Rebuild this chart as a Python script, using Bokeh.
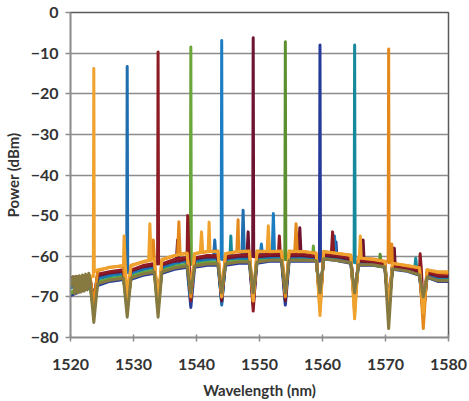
from bokeh.plotting import figure
from bokeh.models import Range1d, FixedTicker, ColumnDataSource
from bokeh.embed import file_html
from bokeh.resources import INLINE

# ---------------- data ----------------
x_ticks = [1520, 1530, 1540, 1550, 1560, 1570, 1580]
y_ticks = [-80, -70, -60, -50, -40, -30, -20, -10, 0]

# wavelengths (nm) where the noise floor was read
floor_wl = [1520.0, 1521.5, 1523.1, 1524.3, 1526.2, 1528.4, 1529.6, 1531.5, 1533.3, 1534.5,
            1536.5, 1538.5, 1539.7, 1541.7, 1543.4, 1544.6, 1546.7, 1548.4, 1549.6, 1551.8,
            1553.5, 1554.7, 1557.0, 1559.0, 1560.2, 1562.6, 1564.5, 1565.7, 1568.0, 1569.9,
            1571.1, 1573.5, 1575.4, 1576.6, 1578.3, 1580.0]
# channel grid (nm): peak of own trace, notch of the others
channel_wl = [1523.7, 1529.0, 1533.9, 1539.1, 1544.0, 1549.0, 1554.1, 1559.6, 1565.1, 1570.5, 1576.0]

# trace 1 (orange, 1523.7 nm)
t1_floor = [-66.0, -65.5, -65.0, -63.3, -62.8, -62.2, -62.4, -61.3, -60.8, -60.8, -59.8, -59.3,
            -59.4, -58.8, -58.9, -59.3, -58.8, -58.7, -58.9, -58.8, -58.7, -58.9, -58.8, -59.3,
            -58.9, -59.3, -59.8, -60.3, -60.8, -61.3, -61.8, -62.3, -62.8, -63.3, -63.8, -63.8]
t1_chan = [-13.8, -70.0, -71.0, -69.0, -70.0, -71.0, -69.0, -74.6, -75.4, -72.0, -74.0]
t1_extra = [(1523.62, -65.0), (1523.78, -63.8), (1528.3, -62.3), (1528.5, -55.0), (1528.7, -62.3),
            (1532.4, -61.1), (1532.6, -52.0), (1532.8, -61.0), (1540.6, -59.1), (1540.8, -54.0),
            (1541.0, -59.0), (1541.85, -58.8), (1542.0, -51.6), (1542.15, -58.8), (1551.2, -58.8),
            (1551.4, -52.5), (1551.6, -58.8), (1565.85, -60.4), (1566.0, -55.0), (1566.15, -60.5)]

# trace 2 (blue, 1529.0 nm)
t2_floor = [-67.3, -66.9, -66.0, -65.3, -64.3, -64.1, -63.8, -63.1, -62.4, -62.6, -61.4, -61.1,
            -60.9, -60.6, -60.4, -60.9, -60.2, -60.4, -60.2, -60.1, -59.9, -60.1, -59.9, -60.4,
            -59.8, -60.2, -60.9, -61.2, -61.6, -61.9, -62.6, -62.9, -63.9, -64.2, -65.1, -64.9]
t2_chan = [-72.0, -13.3, -71.0, -70.0, -72.0, -70.0, -70.0, -71.0, -72.0, -71.0, -72.0]
t2_extra = [(1528.92, -64.0), (1529.08, -64.0), (1547.2, -60.3), (1547.4, -48.7), (1547.6, -60.3),
            (1542.7, -60.5), (1542.9, -56.0), (1543.1, -60.5)]

# trace 3 (dark red, 1533.9 nm)
t3_floor = [-65.3, -65.0, -65.6, -64.4, -63.8, -63.3, -63.4, -62.3, -61.8, -61.9, -60.8, -60.3,
            -60.4, -59.8, -59.9, -60.2, -59.7, -59.6, -59.7, -59.5, -59.4, -59.5, -59.5, -59.9,
            -59.4, -59.9, -60.4, -60.9, -61.3, -61.8, -62.3, -62.8, -63.4, -63.9, -64.6, -64.5]
t3_chan = [-71.0, -72.0, -9.7, -71.0, -70.0, -73.5, -70.0, -72.0, -71.0, -73.0, -73.0]
t3_extra = [(1533.82, -61.9), (1533.98, -61.8), (1538.4, -60.3), (1538.6, -50.0), (1538.8, -60.3),
            (1553.0, -59.4), (1553.15, -55.0), (1553.3, -59.4), (1561.4, -59.6), (1561.6, -54.0),
            (1561.8, -59.6), (1575.3, -63.3), (1575.5, -59.4), (1575.7, -63.5)]

# trace 4 (green, 1539.1 nm)
t4_floor = [-68.9, -67.7, -67.2, -66.3, -65.6, -64.9, -65.1, -63.9, -63.6, -63.4, -62.6, -61.9,
            -62.1, -61.4, -61.6, -61.5, -61.2, -61.0, -61.2, -60.7, -60.9, -60.8, -60.7, -61.0,
            -60.3, -61.0, -61.3, -62.0, -61.9, -62.6, -62.9, -63.6, -64.3, -65.0, -65.7, -65.9]
t4_chan = [-73.0, -73.0, -73.0, -8.5, -69.0, -70.0, -69.0, -70.0, -70.0, -72.0, -72.0]
t4_extra = [(1539.02, -62.0), (1539.18, -62.0), (1558.4, -60.9), (1558.55, -57.5), (1558.7, -60.9)]

# trace 5 (blue, 1544.0 nm)
t5_floor = [-67.6, -66.5, -66.3, -65.0, -64.6, -63.9, -64.1, -62.9, -62.6, -62.4, -61.6, -60.9,
            -61.1, -60.4, -60.6, -60.7, -60.4, -60.2, -60.4, -59.9, -60.1, -59.9, -60.1, -60.2,
            -59.9, -60.4, -60.7, -61.4, -61.4, -62.1, -62.4, -63.1, -63.7, -64.4, -64.9, -65.1]
t5_chan = [-70.0, -71.0, -70.0, -71.0, -6.9, -71.0, -70.0, -71.0, -71.0, -72.0, -73.0]
t5_extra = [(1543.92, -60.6), (1544.08, -60.8), (1552.0, -60.0), (1552.2, -49.5), (1552.4, -60.0),
            (1550.1, -60.1), (1550.3, -57.0), (1550.5, -60.1), (1561.7, -59.8), (1561.9, -55.0),
            (1562.1, -59.8)]

# trace 6 (dark red, 1549.0 nm)
t6_floor = [-65.8, -65.5, -65.4, -64.8, -64.1, -63.7, -63.6, -62.6, -62.2, -62.1, -61.2, -60.6,
            -60.7, -60.1, -60.2, -60.5, -60.0, -60.0, -60.1, -59.8, -59.8, -59.8, -59.9, -60.2,
            -59.8, -60.2, -60.8, -61.2, -61.5, -62.1, -62.6, -63.1, -63.8, -64.2, -64.9, -65.0]
t6_chan = [-71.0, -70.0, -72.0, -70.0, -71.0, -6.2, -71.0, -72.0, -72.0, -74.0, -75.0]
t6_extra = [(1548.92, -60.0), (1549.08, -60.1), (1548.0, -60.0), (1548.2, -54.0), (1548.35, -60.0),
            (1556.2, -59.9), (1556.4, -53.0), (1556.6, -59.9), (1566.3, -61.3), (1566.45, -56.0),
            (1566.6, -61.3), (1571.25, -62.7), (1571.4, -58.0), (1571.55, -62.7), (1536.8, -61.2),
            (1537.0, -56.0), (1537.2, -61.2)]

# trace 7 (green, 1554.1 nm)
t7_floor = [-69.2, -68.1, -67.0, -66.6, -65.4, -65.2, -64.9, -64.2, -63.4, -63.6, -62.4, -62.2,
            -61.9, -61.6, -61.4, -61.7, -61.0, -61.2, -61.0, -60.9, -60.7, -60.9, -60.9, -60.8,
            -60.5, -60.8, -61.5, -61.8, -62.1, -62.4, -63.1, -63.4, -64.5, -64.8, -65.9, -65.7]
t7_chan = [-74.0, -73.0, -73.0, -70.0, -70.0, -70.0, -7.2, -70.0, -71.0, -73.0, -73.0]
t7_extra = [(1554.02, -60.8), (1554.18, -60.8), (1569.0, -62.5), (1569.15, -59.5), (1569.3, -62.5)]

# trace 8 (navy, 1559.6 nm)
t8_floor = [-69.7, -68.7, -67.7, -67.2, -66.2, -65.7, -65.7, -64.7, -64.2, -64.2, -63.2, -62.7,
            -62.7, -62.2, -62.2, -62.2, -61.7, -61.7, -61.7, -61.2, -61.2, -61.2, -61.2, -61.2,
            -60.7, -61.2, -61.7, -62.2, -62.2, -62.7, -63.2, -63.7, -64.7, -65.2, -66.2, -66.2]
t8_chan = [-70.0, -70.0, -71.0, -72.6, -71.0, -72.0, -72.0, -8.0, -72.0, -73.0, -74.0]
t8_extra = [(1559.52, -61.2), (1559.68, -61.1), (1562.0, -61.0), (1562.15, -56.5), (1562.3, -61.0)]

# trace 9 (teal, 1565.1 nm)
t9_floor = [-67.8, -67.1, -66.4, -65.6, -64.8, -64.3, -64.2, -63.3, -62.7, -62.8, -61.8, -61.2,
            -61.3, -60.8, -60.7, -61.0, -60.5, -60.6, -60.4, -60.3, -60.1, -60.3, -60.2, -60.5,
            -60.0, -60.5, -61.0, -61.5, -61.7, -62.2, -62.7, -63.2, -64.0, -64.6, -65.3, -65.3]
t9_chan = [-71.0, -71.0, -71.0, -71.0, -71.5, -71.0, -71.0, -71.0, -8.0, -73.0, -74.0]
t9_extra = [(1565.02, -61.5), (1565.18, -61.6), (1574.6, -63.5), (1574.8, -60.5), (1575.0, -63.6),
            (1545.3, -60.5), (1545.45, -55.0), (1545.6, -60.5)]

# trace 10 (orange, 1570.5 nm)
t10_floor = [-66.5, -65.0, -64.8, -63.6, -62.7, -62.4, -62.2, -61.4, -60.7, -60.9, -59.9, -59.2,
             -59.3, -58.9, -58.7, -59.4, -58.9, -58.8, -58.7, -58.9, -58.8, -58.7, -58.9, -59.2,
             -58.8, -59.4, -59.7, -60.4, -60.7, -61.2, -62.0, -62.4, -62.9, -63.4, -64.0, -64.2]
t10_chan = [-72.0, -72.0, -72.0, -70.0, -70.0, -71.0, -70.0, -73.5, -74.0, -9.0, -77.8]
t10_extra = [(1570.42, -61.4), (1570.58, -61.6), (1537.0, -59.6), (1537.2, -51.5), (1537.4, -59.5),
             (1546.4, -58.9), (1546.6, -51.0), (1546.8, -58.9), (1555.6, -58.8), (1555.8, -52.0),
             (1556.0, -58.9), (1570.85, -61.6), (1571.0, -57.0), (1571.15, -61.7), (1533.0, -60.8),
             (1533.15, -56.0), (1533.3, -60.7)]

# trace 11 (olive, no channel)
t11_floor = [-67.5, -66.5, -66.0, -66.8, -65.9, -65.4, -65.4, -64.4, -63.9, -63.9, -62.9, -62.4,
             -62.4, -61.9, -61.9, -61.9, -61.4, -61.4, -61.4, -61.0, -61.0, -61.0, -61.0, -61.1,
             -60.6, -61.1, -61.6, -62.1, -62.1, -62.6, -63.1, -63.6, -64.6, -65.1, -66.0, -66.0]
t11_chan = [-76.3, -75.0, -75.0, -69.0, -69.0, -69.0, -69.0, -69.0, -69.0, -77.8, -70.0]
t11_extra = [(1520.4, -65.0), (1520.65, -69.2), (1520.9, -64.9), (1521.15, -69.0), (1521.4, -64.8),
             (1521.65, -68.8), (1521.9, -64.6), (1522.15, -68.6), (1522.4, -64.4), (1522.65, -68.3),
             (1522.9, -64.2)]

traces = [
    ("#263A9A", t8_floor, t8_chan, t8_extra),
    ("#5C8F2F", t7_floor, t7_chan, t7_extra),
    ("#6AA63A", t4_floor, t4_chan, t4_extra),
    ("#168A9C", t9_floor, t9_chan, t9_extra),
    ("#1C7DC2", t5_floor, t5_chan, t5_extra),
    ("#1F6EB0", t2_floor, t2_chan, t2_extra),
    ("#6E1430", t6_floor, t6_chan, t6_extra),
    ("#8E1B24", t3_floor, t3_chan, t3_extra),
    ("#E48A1C", t10_floor, t10_chan, t10_extra),
    ("#F0A22E", t1_floor, t1_chan, t1_extra),
    ("#867A40", t11_floor, t11_chan, t11_extra),
]

# ---------------- figure ----------------
FONT = "Lato"

p = figure(width=469, height=401, x_range=Range1d(1520, 1580), y_range=Range1d(-80, 0),
           output_backend="svg", toolbar_location=None,
           min_border_left=68, min_border_right=21, min_border_top=12, min_border_bottom=64)
p.background_fill_color = "white"
p.border_fill_color = "white"
p.outline_line_color = "#5a5a5a"
p.outline_line_width = 1.5

for color, fl, ch, ex in traces:
    pts = list(zip(floor_wl, fl)) + list(zip(channel_wl, ch)) + list(ex)
    pts.sort(key=lambda t: t[0])
    src = ColumnDataSource(data=dict(wl=[a for a, b in pts], dbm=[b for a, b in pts]))
    p.line(x="wl", y="dbm", source=src, line_color=color, line_width=3, line_join="round")

p.xgrid.visible = False
p.ygrid.grid_line_color = "#8c8c8c"
p.ygrid.grid_line_width = 1.5

p.xaxis.ticker = FixedTicker(ticks=x_ticks)
p.yaxis.ticker = FixedTicker(ticks=y_ticks)
for ax in (p.xaxis, p.yaxis):
    ax.minor_tick_line_color = None
    ax.axis_line_color = "#8c8c8c"
    ax.axis_line_width = 1.5
    ax.major_tick_line_color = "#8c8c8c"
    ax.major_tick_line_width = 1.5
    ax.major_label_text_font = FONT
    ax.major_label_text_font_style = "bold"
    ax.major_label_text_font_size = "16px"
    ax.major_label_text_color = "#333333"
    ax.axis_label_text_font = FONT
    ax.axis_label_text_font_style = "bold"
    ax.axis_label_text_font_size = "15px"
    ax.axis_label_text_color = "#333333"

p.xaxis.axis_label = "Wavelength (nm)"
p.yaxis.axis_label = "Power (dBm)"
p.xaxis.major_tick_in = 3
p.xaxis.major_tick_out = 4
p.yaxis.major_tick_in = 0
p.yaxis.major_tick_out = 5
p.xaxis.major_label_standoff = 17
p.yaxis.major_label_standoff = 7
p.xaxis.axis_label_standoff = 8
p.yaxis.axis_label_standoff = 6

open("out.html", "w").write(file_html(p, INLINE))
